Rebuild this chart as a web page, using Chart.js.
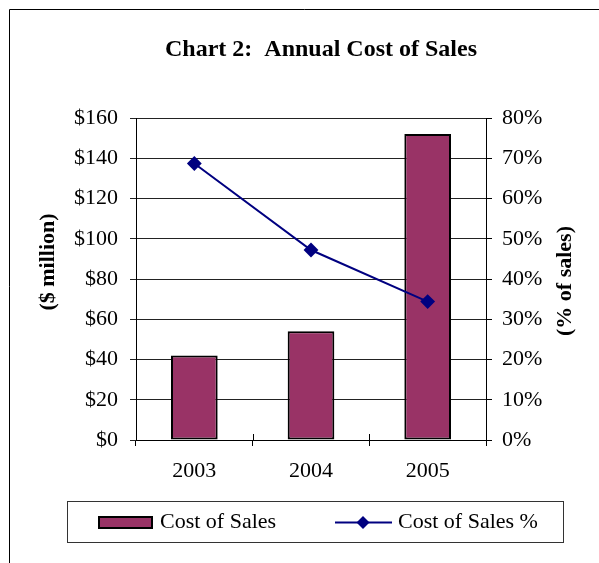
<!DOCTYPE html>
<html>
<head>
<meta charset="utf-8">
<script src="https://cdn.jsdelivr.net/npm/chart.js@4"></script>
<style>
  body { margin: 0; background: #fff; }
  canvas { display: block; }
</style>
</head>
<body>
<canvas id="myChart" width="599" height="563"></canvas>
<script>
// data
const years = ['2003', '2004', '2005'];
const costOfSales = [42, 54, 152];          // $ million
const costOfSalesPct = [68.7, 47.2, 34.4];  // % of sales
const leftAxisMax = 160, leftStep = 20;
const rightAxisMax = 80, rightStep = 10;

const serif = "'Liberation Serif', 'Times New Roman', serif";
const barColor = '#993366';
const lineColor = '#000080';

// title, axis titles, legend box and the inner half of the x ticks
const decorations = {
    id: 'decorations',
    afterDraw(chart) {
        const ctx = chart.ctx;
        const { bottom } = chart.chartArea;
        ctx.save();

        // outer frame
        ctx.strokeStyle = '#000';
        ctx.lineWidth = 1;
        ctx.beginPath();
        ctx.moveTo(9.5, 563);
        ctx.lineTo(9.5, 9.5);
        ctx.lineTo(599, 9.5);
        ctx.stroke();

        // title
        ctx.fillStyle = '#000';
        ctx.font = 'bold 24px ' + serif;
        ctx.textAlign = 'center';
        ctx.textBaseline = 'alphabetic';
        ctx.fillText('Chart 2:  Annual Cost of Sales', 321, 56);

        // axis titles, both read bottom to top
        ctx.font = 'bold 22px ' + serif;
        ctx.textBaseline = 'middle';
        ctx.save();
        ctx.translate(48, 262);
        ctx.rotate(-Math.PI / 2);
        ctx.fillText('($ million)', 0, 0);
        ctx.restore();
        ctx.save();
        ctx.translate(565, 281);
        ctx.rotate(-Math.PI / 2);
        ctx.fillText('(% of sales)', 0, 0);
        ctx.restore();

        // x ticks cross the axis
        const xs = chart.scales.x;
        ctx.strokeStyle = '#000';
        ctx.lineWidth = 1;
        for (let i = 1; i < years.length; i++) {
            const px = Math.round((xs.getPixelForValue(i - 1) + xs.getPixelForValue(i)) / 2) + 0.5;
            ctx.beginPath();
            ctx.moveTo(px, bottom);
            ctx.lineTo(px, bottom - 6);
            ctx.stroke();
        }

        // legend
        const barSet = chart.data.datasets.find(d => d.type === 'bar');
        const lineSet = chart.data.datasets.find(d => d.type === 'line');
        ctx.strokeStyle = '#333';
        ctx.strokeRect(67.5, 501.5, 496, 41);
        ctx.fillStyle = barColor;
        ctx.fillRect(99, 517, 53, 11);
        ctx.strokeStyle = '#000';
        ctx.lineWidth = 2;
        ctx.strokeRect(99, 517, 53, 11);

        ctx.strokeStyle = lineColor;
        ctx.lineWidth = 2;
        ctx.beginPath();
        ctx.moveTo(335, 522.5);
        ctx.lineTo(392, 522.5);
        ctx.stroke();
        ctx.fillStyle = lineColor;
        ctx.beginPath();
        ctx.moveTo(363, 516);
        ctx.lineTo(369.5, 522.5);
        ctx.lineTo(363, 529);
        ctx.lineTo(356.5, 522.5);
        ctx.closePath();
        ctx.fill();

        ctx.fillStyle = '#000';
        ctx.font = '22px ' + serif;
        ctx.textAlign = 'left';
        ctx.textBaseline = 'alphabetic';
        ctx.fillText(barSet.label, 160, 528);
        ctx.fillText(lineSet.label, 398, 528);

        ctx.restore();
    }
};

const tickFont = { family: serif, size: 22 };

const config = {
    type: 'bar',
    data: {
        labels: years,
        datasets: [{
            type: 'line',
            label: 'Cost of Sales %',
            data: costOfSalesPct,
            yAxisID: 'y1',
            borderColor: lineColor,
            backgroundColor: lineColor,
            borderWidth: 2,
            pointStyle: 'rectRot',
            pointRadius: 6,
            pointHoverRadius: 6,
            order: 0
        }, {
            type: 'bar',
            label: 'Cost of Sales',
            data: costOfSales,
            yAxisID: 'y',
            backgroundColor: barColor,
            borderColor: '#000',
            borderWidth: 2,
            borderSkipped: false,
            categoryPercentage: 1,
            barPercentage: 0.4,
            order: 1
        }]
    },
    options: {
        responsive: false,
        animation: false,
        layout: { padding: { top: 118, left: 0, right: 0, bottom: 0 } },
        plugins: {
            legend: { display: false },
            title: { display: false },
            tooltip: { enabled: false }
        },
        scales: {
            x: {
                offset: true,
                grid: { offset: true, drawOnChartArea: false, color: '#000', tickLength: 6 },
                border: { color: '#000', width: 1 },
                ticks: { color: '#000', font: tickFont, padding: 12 },
                afterFit(scale) { scale.height = 123; }
            },
            y: {
                position: 'left',
                min: 0,
                max: leftAxisMax,
                grid: { color: '#222', tickLength: 6 },
                border: { color: '#000', width: 1 },
                ticks: {
                    stepSize: leftStep,
                    color: '#000',
                    font: tickFont,
                    padding: 12,
                    callback: v => '$' + v
                },
                afterFit(scale) { scale.width = 136; }
            },
            y1: {
                position: 'right',
                min: 0,
                max: rightAxisMax,
                grid: { drawOnChartArea: false, color: '#000', tickLength: 6 },
                border: { color: '#000', width: 1 },
                ticks: {
                    stepSize: rightStep,
                    color: '#000',
                    font: tickFont,
                    padding: 10,
                    callback: v => v + '%'
                },
                afterFit(scale) { scale.width = 113; }
            }
        }
    },
    plugins: [decorations]
};

const myChart = new Chart(document.getElementById('myChart'), config);
</script>
</body>
</html>
